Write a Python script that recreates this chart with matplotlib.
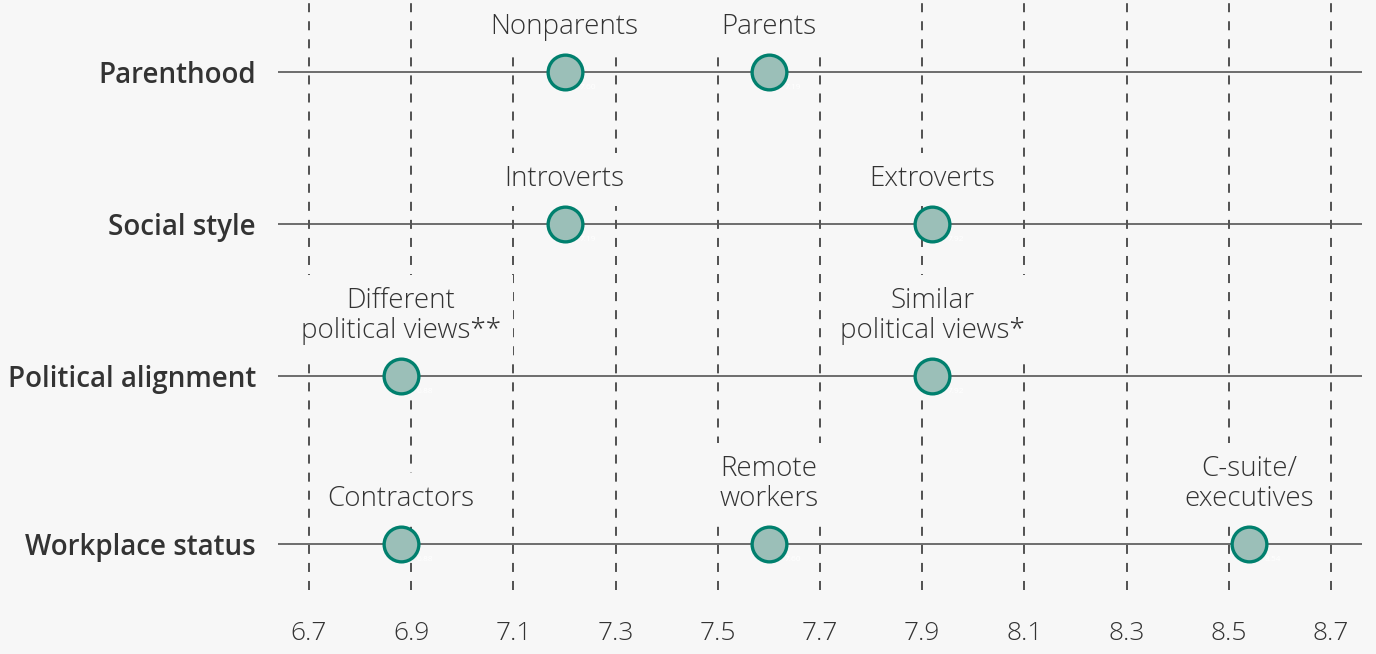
import numpy as np
import matplotlib
matplotlib.use("Agg")
import matplotlib.pyplot as plt

# data
groups = ["Parenthood", "Social style", "Political alignment", "Workplace status"]
group_pos = [0, 1, 2, 3.105]

point_group = [0, 0, 1, 1, 2, 2, 3, 3, 3]
point_names = ["Nonparents", "Parents", "Introverts", "Extroverts",
               "Different\npolitical views**", "Similar\npolitical views*",
               "Contractors", "Remote\nworkers", "C-suite/\nexecutives"]
point_vals = [7.20, 7.60, 7.20, 7.92, 6.88, 7.92, 6.88, 7.60, 8.54]
value_labels = ["7.60", "7.19", "7.19", "7.92", "6.88", "7.92", "6.88", "7.60", "8.54"]

ticks = [6.7, 6.9, 7.1, 7.3, 7.5, 7.7, 7.9, 8.1, 8.3, 8.5, 8.7]

bg = "#f7f7f7"
txt = "#333333"
face = "#9bbfb8"
edge = "#00806e"

plt.rcParams['font.family'] = ['Open Sans', 'DejaVu Sans']

fig = plt.figure(figsize=(13.76, 6.54), dpi=100, facecolor=bg)
ax = fig.add_axes([278/1376, 1 - 590/654, (1362-278)/1376, 590/654])
ax.set_facecolor(bg)

ax.set_xlim(6.6393, 8.7607)
ax.set_ylim(3.408, -0.474)

for t in ticks:
    ax.axvline(t, color="#444444", lw=1.3, ls=(0, (5, 5)), zorder=1)

for y in group_pos:
    ax.axhline(y, color="#555555", lw=1.2, zorder=2)

ys = [group_pos[g] for g in point_group]
ax.plot(point_vals, ys, 'o', ms=25, mfc=face, mec=edge, mew=2.4, zorder=5, ls='none')

for name, x, y, lab in zip(point_names, point_vals, ys, value_labels):
    ax.annotate(name, (x, y), xytext=(0, 22), textcoords='offset points',
                ha='center', va='bottom', fontsize=20, fontweight='light',
                color=txt, linespacing=1.1, zorder=4,
                bbox=dict(boxstyle='square,pad=0.45', fc=bg, ec='none'))
    ax.annotate(lab, (x, y), xytext=(17, -11), textcoords='offset points',
                ha='center', va='center', fontsize=6, color='white', zorder=6)

ax.set_xticks(ticks)
ax.set_xticklabels([f"{t:.1f}" for t in ticks], fontsize=19, color=txt, fontweight='light')
ax.set_yticks(group_pos)
ax.set_yticklabels(groups, fontsize=20, color=txt, fontweight='semibold')
ax.tick_params(axis='x', length=0, pad=22)
ax.tick_params(axis='y', length=0, pad=16)
for s in ax.spines.values():
    s.set_visible(False)

fig.savefig("out.png", dpi=100, facecolor=bg)
